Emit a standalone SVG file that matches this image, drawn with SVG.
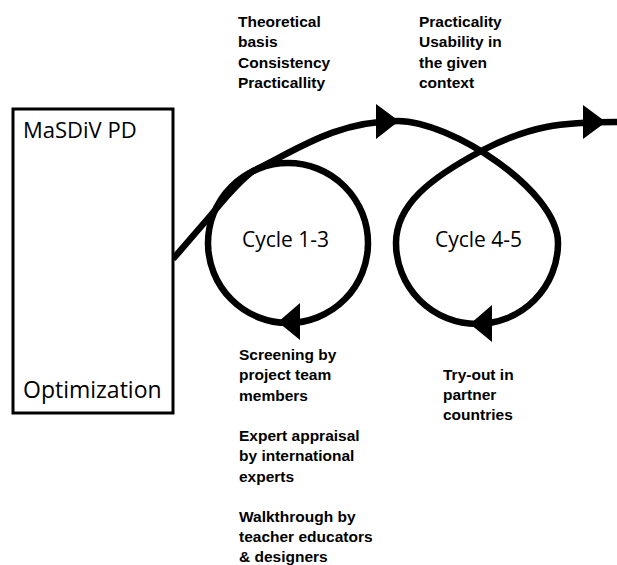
<svg xmlns="http://www.w3.org/2000/svg" width="617" height="565" viewBox="0 0 617 565">
<style>
.bg{fill:#ffffff}
.box{fill:#ffffff;stroke:#000;stroke-width:3}
.line{fill:none;stroke:#000;stroke-width:6.5}
.head{fill:#000}
.big{font-family:"Open Sans","Noto Sans",sans-serif;font-size:22px;fill:#000}
.cyc{font-family:"Open Sans","Noto Sans",sans-serif;font-size:21px;fill:#000}
.lbl{font-family:"Liberation Sans",Arial,sans-serif;font-size:15.5px;font-weight:bold;fill:#000}
</style>
<rect class="bg" x="0" y="0" width="617" height="565"/>
<g id="connectors">
<path class="line" d="M173,259 L211,215 C 222,202 236,184 253,171 C 295,151 335,121 398,121"/>
<circle class="line" cx="288" cy="243" r="80"/>
<path class="line" d="M398,121 C 450,121 558,190 558,243 A81,81 0 0 1 396,243 C 396,205 430,178 483,150 C 530,126 560,122 617,122"/>
<polygon class="head" points="376,104 399,121 376,139"/>
<polygon class="head" points="583,105 606,122 583,139"/>
<polygon class="head" points="300,303 278,322 300,340"/>
<polygon class="head" points="492,305 470,324 492,342"/>
</g>
<g id="masdiv">
<rect class="box" x="13" y="109" width="160" height="304"/>
<text class="big" x="23" y="138">MaSDiV PD</text>
<text class="big" x="23" y="398" style="font-size:23px">Optimization</text>
</g>
<g id="cycle13">
<text class="cyc" x="242" y="247">Cycle 1-3</text>
</g>
<g id="cycle45">
<text class="cyc" x="435" y="247">Cycle 4-5</text>
</g>
<g id="criteria1">
<text class="lbl" x="238" y="27">Theoretical</text>
<text class="lbl" x="238" y="47.3">basis</text>
<text class="lbl" x="238" y="67.6">Consistency</text>
<text class="lbl" x="238" y="87.9">Practicallity</text>
</g>
<g id="criteria2">
<text class="lbl" x="419" y="27">Practicality</text>
<text class="lbl" x="419" y="47.3">Usability in</text>
<text class="lbl" x="419" y="67.6">the given</text>
<text class="lbl" x="419" y="87.9">context</text>
</g>
<g id="methods1">
<text class="lbl" x="239" y="360">Screening by</text>
<text class="lbl" x="239" y="380.3">project team</text>
<text class="lbl" x="239" y="400.5">members</text>
<text class="lbl" x="239" y="441">Expert appraisal</text>
<text class="lbl" x="239" y="461.3">by international</text>
<text class="lbl" x="239" y="481.5">experts</text>
<text class="lbl" x="239" y="522">Walkthrough by</text>
<text class="lbl" x="239" y="542">teacher educators</text>
<text class="lbl" x="239" y="562">&amp; designers</text>
</g>
<g id="methods2">
<text class="lbl" x="443" y="380">Try-out in</text>
<text class="lbl" x="443" y="400">partner</text>
<text class="lbl" x="443" y="420">countries</text>
</g>
</svg>
